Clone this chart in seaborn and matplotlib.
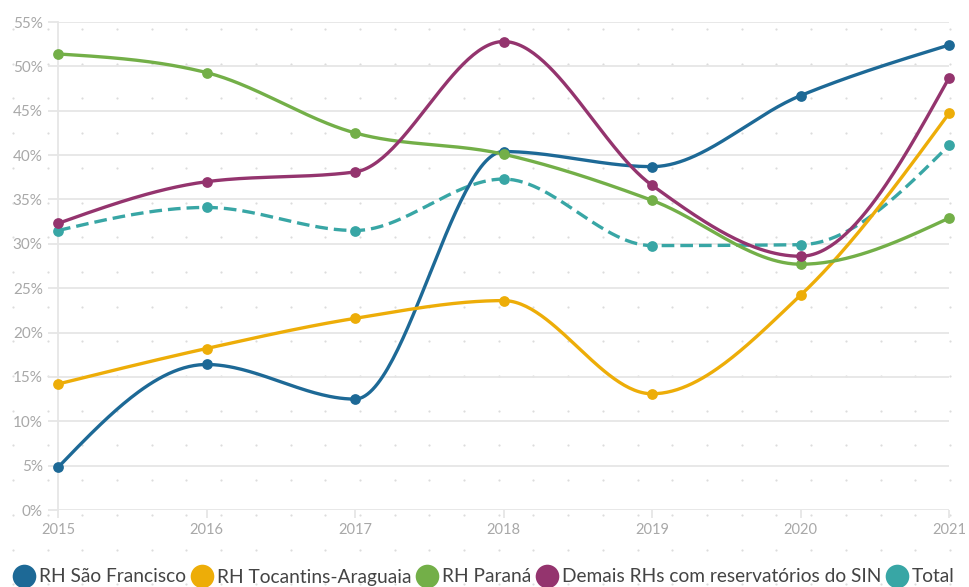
import numpy as np
import pandas as pd
import matplotlib
matplotlib.use("Agg")
import matplotlib.pyplot as plt
from matplotlib.lines import Line2D
import seaborn as sns

# ---- data -------------------------------------------------------------
years = [2015, 2016, 2017, 2018, 2019, 2020, 2021]
series_names = [
    "RH São Francisco",
    "RH Tocantins-Araguaia",
    "RH Paraná",
    "Demais RHs com reservatórios do SIN",
    "Total",
]
sao_francisco = [4.8, 16.4, 12.5, 40.4, 38.7, 46.7, 52.4]
tocantins = [14.2, 18.2, 21.6, 23.6, 13.1, 24.2, 44.7]
parana = [51.4, 49.3, 42.5, 40.1, 34.9, 27.7, 32.9]
demais = [32.3, 37.0, 38.1, 52.8, 36.6, 28.6, 48.7]
total = [31.5, 34.1, 31.5, 37.3, 29.8, 29.9, 41.1]
y_ticks = [0, 5, 10, 15, 20, 25, 30, 35, 40, 45, 50, 55]

colors = ["#1d6996", "#edad08", "#73af48", "#94346e", "#38a6a5"]
values = [sao_francisco, tocantins, parana, demais, total]


def monotone_curve(x, y, n=60):
    """Monotone-X cubic (d3 style) through the given points."""
    x = np.asarray(x, float)
    y = np.asarray(y, float)
    h = np.diff(x)
    s = np.diff(y) / h
    m = len(x)
    t = np.zeros(m)
    sgn = lambda v: -1.0 if v < 0 else 1.0
    for i in range(1, m - 1):
        p = (s[i - 1] * h[i] + s[i] * h[i - 1]) / (h[i - 1] + h[i])
        t[i] = (sgn(s[i - 1]) + sgn(s[i])) * min(abs(s[i - 1]), abs(s[i]), 0.5 * abs(p))
    t[0] = (3 * s[0] - t[1]) / 2
    t[-1] = (3 * s[-1] - t[-2]) / 2
    xs, ys = [], []
    u = np.linspace(0, 1, n)
    for i in range(m - 1):
        dx = h[i] / 3
        p0, p3 = y[i], y[i + 1]
        p1 = y[i] + dx * t[i]
        p2 = y[i + 1] - dx * t[i + 1]
        yy = (1 - u) ** 3 * p0 + 3 * (1 - u) ** 2 * u * p1 + 3 * (1 - u) * u ** 2 * p2 + u ** 3 * p3
        xx = x[i] + u * h[i]
        if i > 0:
            xx, yy = xx[1:], yy[1:]
        xs.append(xx)
        ys.append(yy)
    return np.concatenate(xs), np.concatenate(ys)


# ---- figure -----------------------------------------------------------
sns.set_theme(style="white")
plt.rcParams["font.family"] = ["Lato", "DejaVu Sans"]

W, H = 969, 587
fig = plt.figure(figsize=(W / 100, H / 100), dpi=100)

# dotted background pattern
bg = fig.add_axes([0, 0, 1, 1], zorder=-5)
bg.set_xlim(0, W)
bg.set_ylim(H, 0)
bg.axis("off")
gx = np.arange(13, W, 34.7)
gy = np.arange(29, H, 34.7)
GX, GY = np.meshgrid(gx, gy)
bg.scatter(GX.ravel(), GY.ravel(), s=2.5, color="#dcdcdc", linewidths=0)

ax = fig.add_axes([58 / W, 77 / H, 891 / W, 488 / H])
ax.patch.set_alpha(0)

# order of drawing: Total underneath, then the regions
draw_order = [4, 0, 1, 2, 3]
for k, idx in enumerate(draw_order):
    xs, ys = monotone_curve(years, values[idx])
    ls = (0, (3.8, 1.8)) if idx == 4 else "-"
    sns.lineplot(x=xs, y=ys, ax=ax, color=colors[idx], linewidth=2.4,
                 linestyle=ls, sort=False, estimator=None, clip_on=False,
                 zorder=3 + k)
    sns.scatterplot(x=years, y=values[idx], ax=ax, color=colors[idx], s=60,
                    linewidth=0, clip_on=False, zorder=10 + k)

ax.set_xlim(2015, 2021)
ax.set_ylim(0, 55)
ax.set_yticks(y_ticks)
ax.set_yticklabels([f"{v}%" for v in y_ticks])
ax.set_xticks(years)
ax.set_xticklabels([str(y) for y in years])

ax.grid(axis="y", color="#e6e6e6", linewidth=1.3)
ax.grid(axis="x", visible=False)
for side in ["top", "right", "bottom"]:
    ax.spines[side].set_visible(False)
ax.spines["left"].set_color("#e6e6e6")
ax.spines["left"].set_linewidth(1.3)
ax.spines["left"].set_bounds(0, 55)

ax.tick_params(axis="y", length=7, width=1.3, color="#e6e6e6", pad=4,
               labelsize=11, labelcolor="#a8a8a8", left=True)
ax.tick_params(axis="x", length=6, width=1.3, color="#e6e6e6", pad=3,
               labelsize=10.5, labelcolor="#a8a8a8", bottom=True, direction="out")
ax.set_xlabel("")
ax.set_ylabel("")

handles = [Line2D([], [], marker="o", linestyle="none", markersize=17,
                  markerfacecolor=c, markeredgewidth=0) for c in colors]
fig.legend(handles, series_names, loc="center", ncol=5,
           bbox_to_anchor=(0.5, 1 - 577 / H), frameon=False,
           handletextpad=0.3, columnspacing=0.3, handlelength=1.0,
           fontsize=13.8, labelcolor="#444444", borderaxespad=0)

fig.savefig("out.png", dpi=100, facecolor="white")
